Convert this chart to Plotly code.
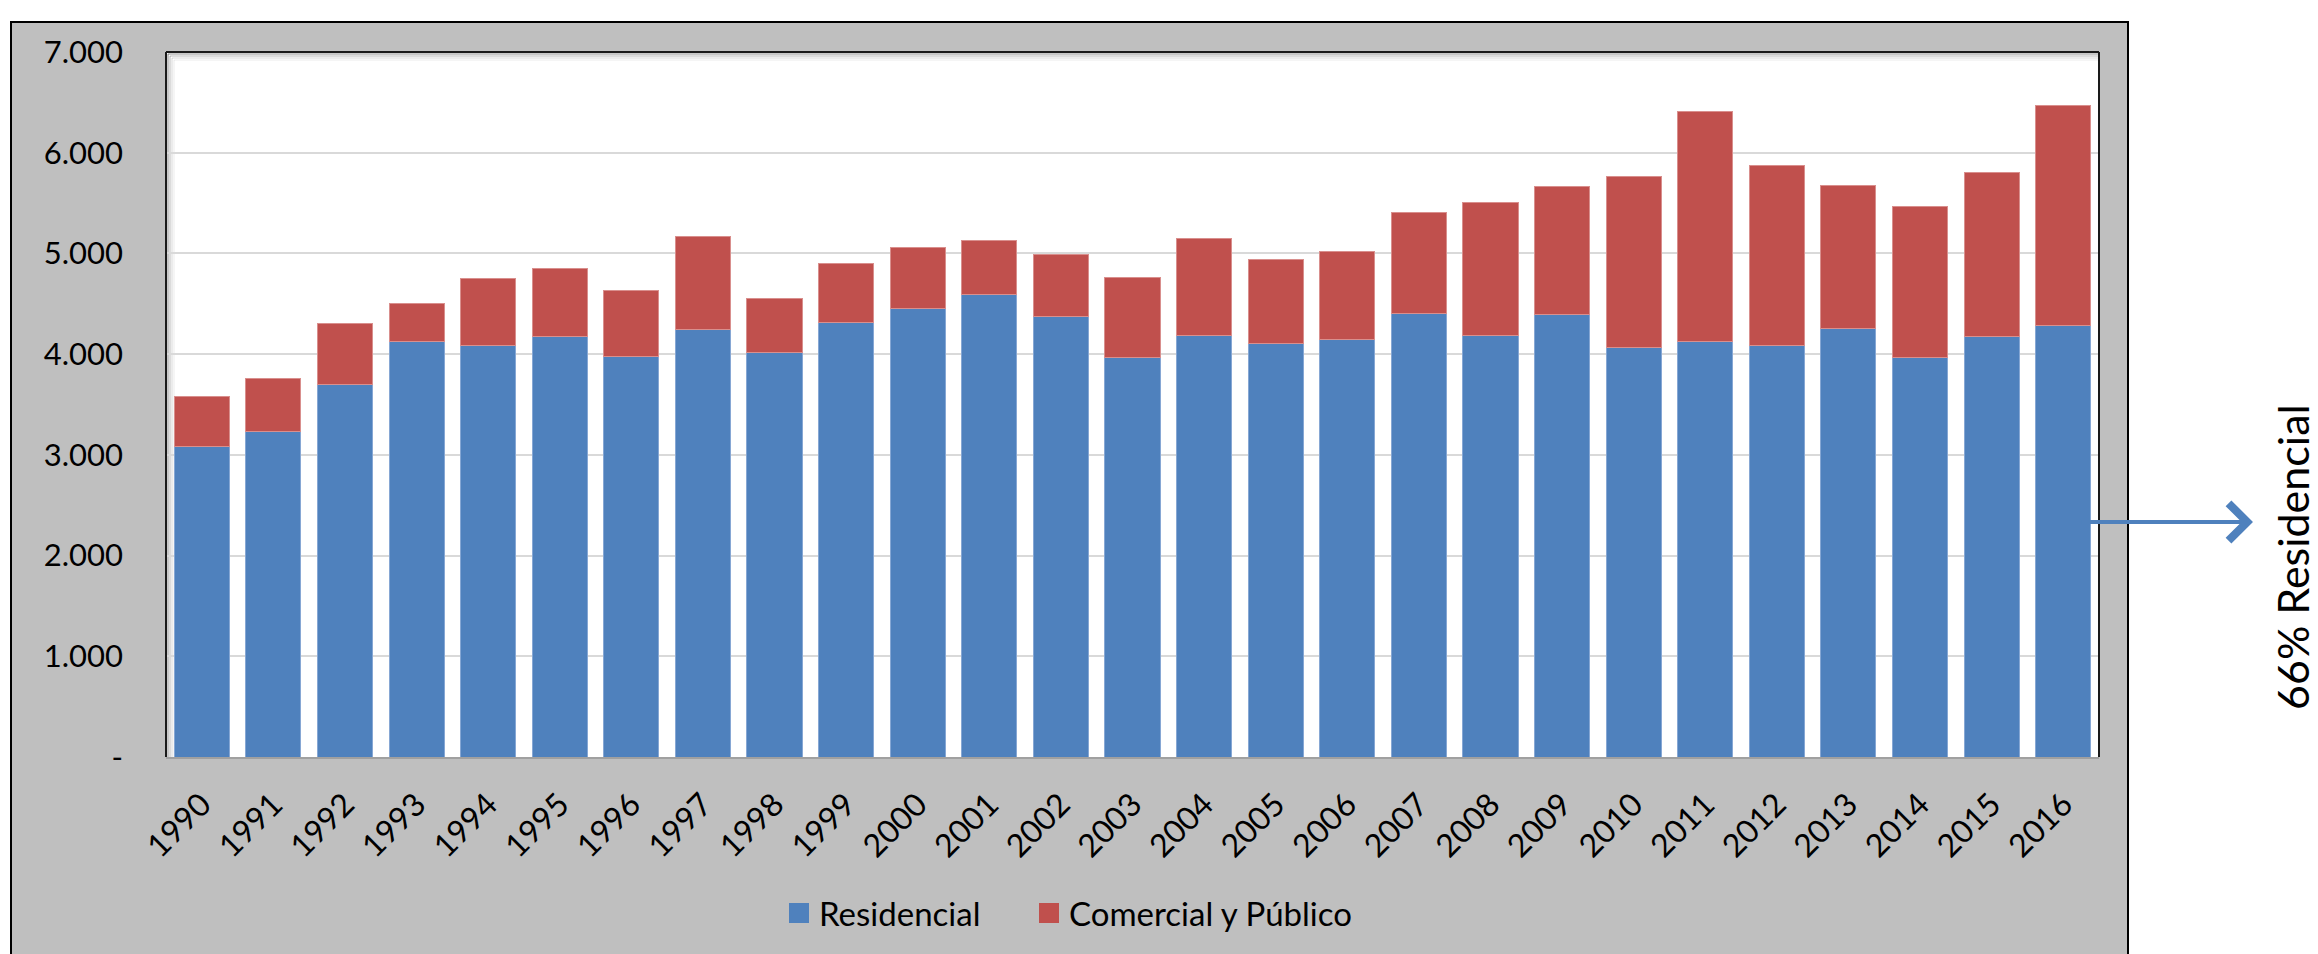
import plotly.graph_objects as go

years = [str(y) for y in range(1990, 2017)]
residencial = [3080, 3230, 3700, 4130, 4090, 4180, 3980, 4240, 4020, 4310,
               4450, 4590, 4370, 3970, 4190, 4110, 4150, 4400, 4190, 4390,
               4070, 4130, 4090, 4250, 3970, 4180, 4280]
comercial = [500, 530, 600, 370, 660, 670, 650, 930, 530, 590,
             610, 540, 620, 790, 960, 830, 870, 1010, 1320, 1270,
             1690, 2280, 1780, 1420, 1500, 1620, 2190]
ytick_vals = [0, 1000, 2000, 3000, 4000, 5000, 6000, 7000]
ytick_text = ["-", "1.000", "2.000", "3.000", "4.000", "5.000", "6.000", "7.000"]

BLUE = "#4F81BD"
RED = "#C0504D"
FONT = "Lato"

OFF = 8  # page body margin
W, H = 2318 - OFF, 954 - OFF
# plot area in page pixels
PL, PR, PT, PB = 166, 2099, 52, 757
L, R, T, B = PL - OFF, PR - OFF, PT - OFF, PB - OFF
PW, PH = R - L, B - T


def px(x):
    """page pixel x -> paper"""
    return (x - PL) / PW


def py(y):
    """page pixel y -> paper"""
    return (PB - y) / PH


fig = go.Figure()
fig.add_trace(go.Bar(x=years, y=residencial, name="Residencial",
                     marker=dict(color=BLUE, line=dict(color="#86A7D4", width=1)),
                     showlegend=False))
fig.add_trace(go.Bar(x=years, y=comercial, name="Comercial y Público",
                     marker=dict(color=RED, line=dict(color="#D98F8D", width=1)),
                     showlegend=False))
# legend proxies
fig.add_trace(go.Scatter(x=[years[0]], y=[None], mode="markers", name="Residencial",
                         marker=dict(symbol="square", size=16, color=BLUE,
                                     line=dict(color=BLUE, width=4)),
                         legend="legend", hoverinfo="skip"))
fig.add_trace(go.Scatter(x=[years[0]], y=[None], mode="markers", name="Comercial y Público",
                         marker=dict(symbol="square", size=16, color=RED,
                                     line=dict(color=RED, width=4)),
                         legend="legend2", hoverinfo="skip"))

shapes = [
    # outer grey chart area
    dict(type="rect", xref="paper", yref="paper", layer="below",
         x0=px(11), x1=px(2128), y0=py(970), y1=py(22),
         fillcolor="#BFBFBF", line=dict(color="#000000", width=2)),
    # white plot area
    dict(type="rect", xref="paper", yref="paper", layer="below",
         x0=0, x1=1, y0=0, y1=1,
         fillcolor="#FFFFFF", line=dict(width=0)),
]
# soft inner shadow along top/left
for i, a in enumerate([0.22, 0.14, 0.08, 0.04]):
    off = 2 + i * 2
    shapes.append(dict(type="line", xref="paper", yref="paper", layer="below",
                       x0=px(PL + off), x1=1, y0=py(PT + off), y1=py(PT + off),
                       line=dict(color=f"rgba(0,0,0,{a})", width=2)))
    shapes.append(dict(type="line", xref="paper", yref="paper", layer="below",
                       x0=px(PL + off), x1=px(PL + off), y0=0, y1=py(PT + off),
                       line=dict(color=f"rgba(0,0,0,{a})", width=2)))
# frame lines (top, left, right)
shapes += [
    dict(type="line", xref="paper", yref="paper", x0=0, x1=1, y0=1, y1=1,
         line=dict(color="#1A1A1A", width=2)),
    dict(type="line", xref="paper", yref="paper", x0=0, x1=0, y0=0, y1=1,
         line=dict(color="#1A1A1A", width=2)),
    dict(type="line", xref="paper", yref="paper", x0=1, x1=1, y0=0, y1=1,
         line=dict(color="#1A1A1A", width=2)),
]

annotations = [
    dict(xref="paper", yref="paper", x=px(2253), y=py(522), ax=-173, ay=0,
         text=" ", font=dict(size=1), showarrow=True, arrowhead=4,
         arrowwidth=4, arrowsize=1.8, arrowcolor=BLUE),
    dict(xref="paper", yref="paper", x=px(2292), y=py(557), text="66% Residencial",
         textangle=-90, showarrow=False, xanchor="center", yanchor="middle",
         borderpad=0, borderwidth=0,
         font=dict(family=FONT, size=43, color="#000000")),
]

fig.update_layout(
    width=W, height=H,
    margin=dict(l=L, r=W - R, t=T, b=H - B, pad=0),
    paper_bgcolor="#FFFFFF",
    plot_bgcolor="rgba(0,0,0,0)",
    barmode="stack",
    bargap=0.23,
    font=dict(family=FONT, size=32, color="#000000"),
    shapes=shapes,
    annotations=annotations,
    legend=dict(orientation="h", x=px(779), y=py(913), xanchor="left", yanchor="middle",
                bgcolor="rgba(0,0,0,0)", font=dict(family=FONT, size=33, color="#000000")),
    legend2=dict(orientation="h", x=px(1029), y=py(913), xanchor="left", yanchor="middle",
                 bgcolor="rgba(0,0,0,0)", font=dict(family=FONT, size=33, color="#000000")),
    xaxis=dict(type="category", tickangle=-45, showgrid=False,
               range=[-0.5, len(years) - 0.5], autorange=False,
               showline=True, linecolor="#A0A0A0", linewidth=2,
               ticks="", ticklabelstandoff=14,
               tickfont=dict(family=FONT, size=32, color="#000000")),
    yaxis=dict(range=[0, 7000], tickvals=ytick_vals, ticktext=ytick_text,
               showgrid=True, gridcolor="#D9D9D9", gridwidth=2,
               zeroline=False, showline=False, ticks="", ticklabelstandoff=42,
               tickfont=dict(family=FONT, size=31, color="#000000")),
)

fig.write_html("out.html")
